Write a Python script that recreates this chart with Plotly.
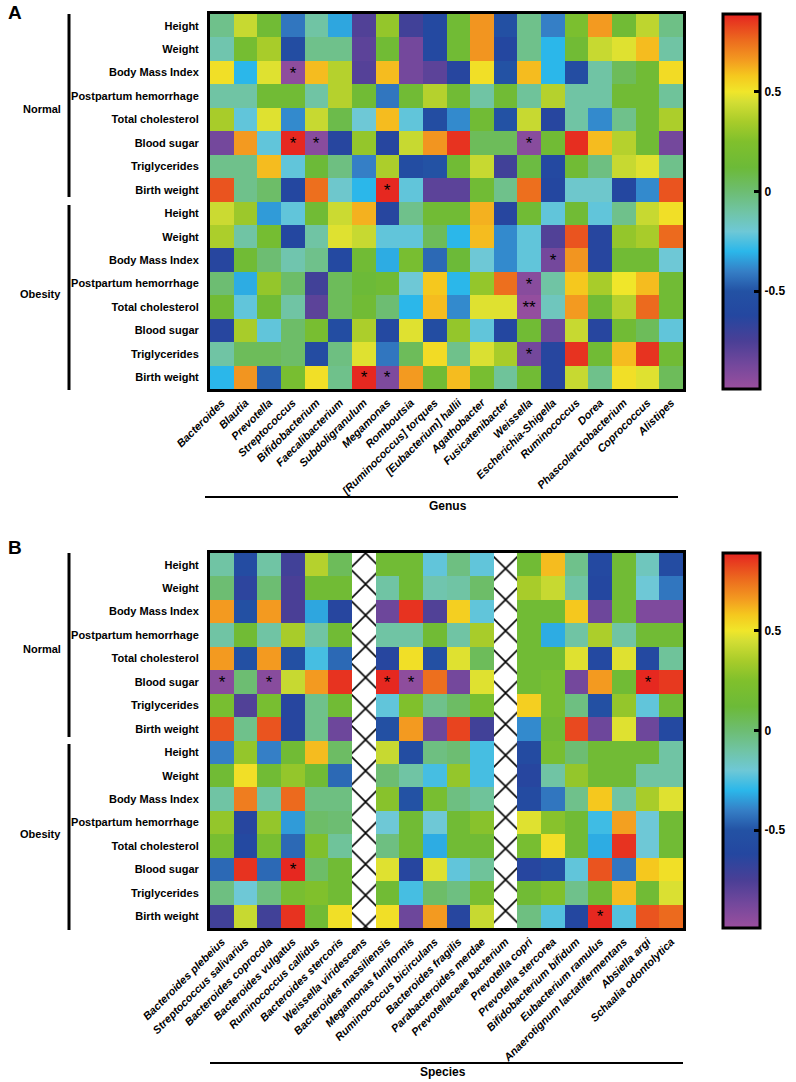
import math
import plotly.graph_objects as go

NAN = float("nan")

row_labels = ["Height", "Weight", "Body Mass Index", "Postpartum hemorrhage",
              "Total cholesterol", "Blood sugar", "Triglycerides", "Birth weight"]
groups = ["Normal", "Obesity"]

genus = ["Bacteroides", "Blautia", "Prevotella", "Streptococcus", "Bifidobacterium",
         "Faecalibacterium", "Subdoligranulum", "Megamonas", "Romboutsia",
         "[Ruminococcus] torques", "[Eubacterium] hallii", "Agathobacter",
         "Fusicatenibacter", "Weissella", "Escherichia-Shigella", "Ruminococcus",
         "Dorea", "Phascolarctobacterium", "Coprococcus", "Alistipes"]

species = ["Bacteroides plebeius", "Streptococcus salivarius", "Bacteroides coprocola",
           "Bacteroides vulgatus", "Ruminococcus callidus", "Bacteroides stercoris",
           "Weissella viridescens", "Bacteroides massiliensis", "Megamonas funiformis",
           "Ruminococcus bicirculans", "Bacteroides fragilis", "Parabacteroides merdae",
           "Prevotellaceae bacterium", "Prevotella copri", "Prevotella stercorea",
           "Bifidobacterium bifidum", "Eubacterium ramulus",
           "Anaerotignum lactatifermentans", "Absiella argi", "Schaalia odontolytica"]

genus_normal = [
    [-0.05, 0.42, 0.15, -0.42, -0.10, -0.33, -0.77, 0.30, -0.72, -0.60, 0.15, 0.67, -0.52, -0.05, -0.40, 0.22, 0.66, 0.15, 0.40, -0.04],
    [-0.12, 0.18, 0.35, -0.55, -0.05, -0.05, -0.80, 0.15, -0.87, -0.60, 0.15, 0.67, -0.62, -0.05, -0.30, 0.15, 0.42, 0.47, 0.60, -0.10],
    [0.52, -0.30, 0.47, -0.95, 0.60, 0.38, -0.78, 0.60, -0.87, -0.80, -0.63, 0.52, -0.50, 0.60, -0.30, -0.56, -0.10, 0.05, 0.15, 0.53],
    [-0.10, -0.10, 0.15, 0.15, -0.10, 0.38, 0.15, -0.42, 0.15, 0.38, 0.15, -0.10, 0.15, -0.08, 0.38, -0.10, -0.10, 0.15, 0.15, -0.08],
    [0.35, -0.22, 0.47, -0.38, 0.42, 0.08, -0.20, 0.60, -0.22, -0.55, -0.38, 0.15, -0.50, 0.42, -0.63, -0.10, -0.38, -0.05, 0.15, 0.36],
    [-0.87, 0.66, -0.22, 0.88, -0.93, -0.63, 0.30, -0.63, 0.42, 0.67, 0.86, 0.05, 0.05, -0.93, 0.15, 0.87, 0.60, 0.38, 0.15, -0.87],
    [-0.05, -0.05, 0.60, -0.22, 0.12, -0.03, -0.40, 0.36, -0.55, -0.50, 0.15, 0.42, -0.72, 0.10, -0.60, 0.15, -0.03, 0.42, 0.47, -0.05],
    [0.80, -0.05, 0.02, -0.62, 0.75, -0.18, -0.30, 0.88, -0.22, -0.80, -0.80, 0.15, -0.05, 0.75, -0.62, -0.18, -0.18, -0.62, -0.38, 0.80],
]
genus_obesity = [
    [0.43, 0.32, -0.35, -0.22, 0.15, 0.43, 0.62, -0.63, -0.05, 0.15, 0.15, 0.62, -0.63, 0.15, -0.22, 0.15, -0.22, -0.05, 0.42, 0.52],
    [0.36, -0.10, 0.18, -0.62, -0.10, 0.47, 0.42, -0.22, -0.22, 0.05, -0.30, 0.60, -0.38, -0.22, -0.77, 0.80, -0.63, 0.30, 0.35, 0.76],
    [-0.63, 0.15, 0.00, -0.12, -0.05, -0.60, 0.15, -0.32, 0.20, -0.45, 0.12, -0.20, -0.38, -0.22, -0.87, 0.67, -0.63, 0.15, 0.15, -0.20],
    [0.00, -0.32, 0.30, 0.02, -0.72, 0.05, 0.12, 0.15, -0.20, 0.58, -0.30, 0.30, 0.75, -0.93, -0.10, 0.58, 0.35, 0.50, 0.60, 0.15],
    [0.15, -0.22, 0.15, -0.10, -0.80, 0.05, 0.15, 0.00, -0.30, 0.60, -0.38, 0.47, 0.47, -0.97, -0.15, 0.66, 0.15, 0.38, 0.76, 0.15],
    [-0.63, 0.35, -0.22, 0.02, 0.20, -0.55, 0.36, -0.60, 0.47, -0.55, 0.30, -0.22, -0.62, 0.15, -0.85, 0.42, -0.63, 0.15, 0.05, -0.22],
    [-0.10, 0.05, 0.05, 0.02, -0.57, -0.03, 0.47, -0.42, 0.05, 0.53, -0.05, 0.46, 0.35, -0.87, -0.63, 0.86, 0.15, 0.60, 0.86, 0.15],
    [-0.30, 0.67, -0.47, 0.20, 0.52, -0.05, 0.88, -0.90, 0.66, 0.15, 0.60, 0.20, -0.08, 0.15, -0.63, 0.42, -0.05, 0.52, 0.47, 0.05],
]
species_normal = [
    [-0.10, -0.57, -0.10, -0.72, 0.38, 0.05, NAN, 0.15, 0.15, -0.22, -0.03, -0.22, NAN, 0.15, 0.60, -0.05, -0.60, 0.15, -0.15, -0.57],
    [0.00, -0.65, 0.00, -0.75, 0.15, 0.15, NAN, -0.10, 0.15, -0.12, -0.10, 0.02, NAN, 0.35, 0.42, -0.10, -0.62, 0.15, -0.20, -0.42],
    [0.66, -0.52, 0.66, -0.75, -0.33, -0.63, NAN, -0.85, 0.86, -0.77, 0.56, -0.22, NAN, 0.15, 0.15, 0.58, -0.85, 0.15, -0.90, -0.90],
    [-0.10, 0.15, -0.10, 0.35, -0.10, 0.15, NAN, -0.10, -0.10, 0.15, -0.10, 0.35, NAN, 0.15, -0.32, -0.10, 0.36, -0.10, 0.15, 0.15],
    [0.66, -0.52, 0.66, -0.52, -0.26, -0.45, NAN, -0.63, 0.52, -0.52, 0.47, 0.05, NAN, 0.15, 0.15, 0.47, -0.60, 0.47, -0.60, -0.08],
    [-0.93, 0.00, -0.93, 0.42, 0.66, 0.86, NAN, 0.88, -0.95, 0.75, -0.87, 0.47, NAN, 0.15, 0.20, -0.87, 0.66, 0.15, 0.88, 0.85],
    [0.20, -0.77, 0.20, -0.63, -0.05, 0.15, NAN, -0.22, 0.25, -0.05, 0.03, 0.20, NAN, 0.56, 0.20, -0.03, -0.52, 0.30, -0.22, 0.15],
    [0.80, -0.05, 0.80, -0.63, -0.05, -0.85, NAN, -0.52, 0.66, -0.85, 0.83, -0.72, NAN, -0.38, 0.15, 0.82, -0.85, 0.47, -0.85, -0.60],
]
species_obesity = [
    [-0.40, 0.30, -0.40, 0.15, 0.60, 0.03, NAN, 0.42, -0.55, -0.03, 0.00, -0.26, NAN, -0.58, 0.20, 0.00, 0.15, 0.15, 0.15, -0.10],
    [0.15, 0.52, 0.15, 0.30, 0.15, -0.45, NAN, 0.00, -0.10, -0.26, 0.30, -0.26, NAN, -0.63, -0.10, 0.30, 0.15, 0.15, -0.10, -0.10],
    [-0.10, 0.72, -0.10, 0.76, -0.03, -0.03, NAN, 0.27, -0.50, 0.20, -0.03, -0.08, NAN, -0.58, -0.42, -0.05, 0.58, -0.10, 0.35, 0.47],
    [0.30, -0.63, 0.30, -0.35, 0.02, 0.00, NAN, -0.20, 0.15, -0.20, 0.15, 0.27, NAN, 0.47, 0.27, 0.15, -0.27, 0.65, -0.20, 0.15],
    [0.20, -0.60, 0.20, -0.45, 0.25, -0.08, NAN, -0.03, 0.15, -0.32, 0.15, 0.15, NAN, 0.20, 0.52, 0.15, -0.32, 0.86, -0.20, 0.15],
    [-0.45, 0.86, -0.45, 0.88, 0.02, 0.15, NAN, 0.47, -0.63, 0.47, -0.22, -0.08, NAN, -0.63, -0.55, -0.22, 0.80, -0.42, 0.58, 0.52],
    [-0.03, -0.20, -0.03, 0.20, 0.25, 0.15, NAN, 0.15, -0.26, 0.02, -0.03, 0.20, NAN, 0.15, 0.25, -0.05, 0.15, 0.60, 0.15, 0.46],
    [-0.72, 0.42, -0.72, 0.86, 0.15, 0.52, NAN, 0.52, -0.85, 0.66, -0.63, 0.42, NAN, -0.03, -0.24, -0.62, 0.88, -0.24, 0.80, 0.76],
]

# significance marks: (row index over 16 rows, column index, mark)
genus_marks = [(2, 3, "*"), (5, 3, "*"), (5, 4, "*"), (5, 13, "*"), (7, 7, "*"),
               (10, 14, "*"), (11, 13, "*"), (12, 13, "**"), (14, 13, "*"),
               (15, 6, "*"), (15, 7, "*")]
species_marks = [(5, 0, "*"), (5, 2, "*"), (5, 7, "*"), (5, 8, "*"), (5, 18, "*"),
                 (13, 3, "*"), (15, 16, "*")]

cbar_ticks = [-0.5, 0, 0.5]
ZMIN, ZMAX = -0.99, 0.89

stops = [(-0.99, "#9b4f9e"), (-0.87, "#74489c"), (-0.75, "#4a3f96"), (-0.62, "#2447a0"),
         (-0.50, "#2352a4"), (-0.40, "#357fc6"), (-0.30, "#2bb7ea"), (-0.20, "#6ec8d6"),
         (-0.10, "#70c4a4"), (0.00, "#6dbd72"), (0.12, "#6cba38"), (0.25, "#80c02c"),
         (0.35, "#a8cc2a"), (0.45, "#d4de34"), (0.50, "#f0e62a"), (0.58, "#f5c81e"),
         (0.66, "#f39a20"), (0.76, "#ec6a1e"), (0.89, "#e52320")]
colorscale = [[(v - ZMIN) / (ZMAX - ZMIN), c] for v, c in stops]

FONT = "Arial, 'Liberation Sans', sans-serif"

# ---- page geometry (pixels) ----
W, H = 796, 1082
L, R, T, B = 210, 113, 14, 154
PW, PH = W - L - R, H - T - B


def px(x):
    return (x - L) / PW


def py(y):
    return 1 - (y - T) / PH


domA = [py(389), 1.0]
domB = [0.0, py(553)]


def marks_text(marks, nrows, ncols):
    t = [["" for _ in range(ncols)] for _ in range(nrows)]
    for r, c, m in marks:
        t[r][c] = m
    return t


zA = genus_normal + genus_obesity
zB = species_normal + species_obesity
nrows = len(zA)
yl = row_labels * len(groups)

fig = go.Figure()


def cbar(dom):
    return dict(thickness=37, thicknessmode="pixels", len=375, lenmode="pixels",
                x=px(723), xanchor="left", y=(dom[0] + dom[1]) / 2, yanchor="middle",
                xpad=0, ypad=0, outlinewidth=3, outlinecolor="black",
                tickvals=cbar_ticks, ticktext=[str(v) for v in cbar_ticks],
                ticks="inside", ticklen=7, tickwidth=3, tickcolor="black",
                tickfont=dict(family=FONT, size=12, color="black", weight="bold"))


fig.add_trace(go.Heatmap(
    z=zA, x=list(range(len(genus))), y=list(range(nrows)),
    zmin=ZMIN, zmax=ZMAX, colorscale=colorscale,
    text=marks_text(genus_marks, nrows, len(genus)), texttemplate="%{text}",
    textfont=dict(family=FONT, size=17, color="black"),
    colorbar=cbar(domA), hoverinfo="skip", xaxis="x", yaxis="y"))

fig.add_trace(go.Heatmap(
    z=zB, x=list(range(len(species))), y=list(range(nrows)),
    zmin=ZMIN, zmax=ZMAX, colorscale=colorscale,
    text=marks_text(species_marks, nrows, len(species)), texttemplate="%{text}",
    textfont=dict(family=FONT, size=17, color="black"),
    colorbar=cbar(domB), hoverinfo="skip", xaxis="x2", yaxis="y2"))

# hatched columns = columns with no values
hatch_cols = [j for j in range(len(species)) if all(math.isnan(row[j]) for row in zB)]
fig.add_trace(go.Bar(
    x=hatch_cols, y=[nrows] * len(hatch_cols), base=[-0.5] * len(hatch_cols), width=1,
    marker=dict(color="white", line=dict(width=0),
                pattern=dict(shape="x", fgcolor="black", bgcolor="white", size=22,
                             solidity=0.14, fillmode="replace")),
    hoverinfo="skip", showlegend=False, xaxis="x2", yaxis="y2"))


def xax(labels, anchor):
    return dict(domain=[0, 1], range=[-0.5, len(labels) - 0.5], anchor=anchor,
                tickmode="array", tickvals=list(range(len(labels))), ticktext=labels,
                tickangle=-45, ticks="", showgrid=False, zeroline=False,
                showline=True, mirror=True, linewidth=3, linecolor="black",
                tickfont=dict(family=FONT, size=11, color="black", weight="bold", style="italic"),
                automargin=False)


def yax(dom, anchor):
    return dict(domain=dom, range=[nrows - 0.5, -0.5], anchor=anchor,
                tickmode="array", tickvals=list(range(nrows)), ticktext=yl,
                ticks="", showgrid=False, zeroline=False, ticklabelstandoff=6,
                showline=True, mirror=True, linewidth=3, linecolor="black",
                tickfont=dict(family=FONT, size=11, color="black", weight="bold"),
                automargin=False)


shapes = []
annotations = []
line = dict(color="black", width=3)

# group brackets
for top, bot in [(14, 197), (205, 390), (553, 737), (744, 930)]:
    shapes.append(dict(type="line", xref="paper", yref="paper", x0=px(69), x1=px(69),
                       y0=py(top), y1=py(bot), line=line))
for yc, lbl in [(109, groups[0]), (294, groups[1]), (649, groups[0]), (834, groups[1])]:
    annotations.append(dict(text=lbl, xref="paper", yref="paper", x=px(63), y=py(yc),
                            xanchor="right", yanchor="middle", showarrow=False,
                            font=dict(family=FONT, size=11, color="black", weight="bold")))

# axis titles with rule
shapes.append(dict(type="line", xref="paper", yref="paper", x0=px(205), x1=px(678),
                   y0=py(497), y1=py(497), line=dict(color="black", width=2)))
shapes.append(dict(type="line", xref="paper", yref="paper", x0=px(210), x1=px(683),
                   y0=py(1063), y1=py(1063), line=dict(color="black", width=2)))
annotations.append(dict(text="Genus", xref="paper", yref="paper", x=px(448), y=py(506),
                        xanchor="center", yanchor="middle", showarrow=False,
                        font=dict(family=FONT, size=12, color="black", weight="bold")))
annotations.append(dict(text="Species", xref="paper", yref="paper", x=px(443), y=py(1072),
                        xanchor="center", yanchor="middle", showarrow=False,
                        font=dict(family=FONT, size=12, color="black", weight="bold")))

# panel letters
for lbl, yc in [("A", 12), ("B", 547)]:
    annotations.append(dict(text=lbl, xref="paper", yref="paper", x=px(6), y=py(yc),
                            xanchor="left", yanchor="middle", showarrow=False,
                            font=dict(family=FONT, size=19, color="black", weight="bold")))

fig.update_layout(
    width=W, height=H, margin=dict(l=L, r=R, t=T, b=B, autoexpand=False),
    paper_bgcolor="white", plot_bgcolor="white",
    xaxis=xax(genus, "y"), yaxis=yax(domA, "x"),
    xaxis2=xax(species, "y2"), yaxis2=yax(domB, "x2"),
    shapes=shapes, annotations=annotations, showlegend=False, bargap=0,
)

fig.write_html("out.html")
